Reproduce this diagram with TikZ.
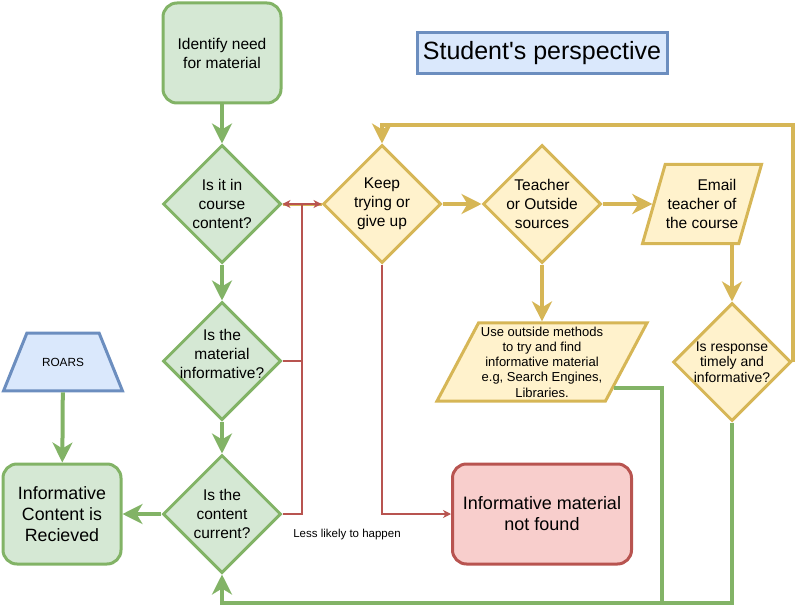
\documentclass[tikz,border=0pt]{standalone}
\usepackage{fontspec}
\setmainfont{Liberation Sans}
\usepackage{xcolor}
\usepackage{tikz}
\usetikzlibrary{shapes.geometric}
\usetikzlibrary{arrows.meta}

\definecolor{gFill}{HTML}{D5E8D4}
\definecolor{gStroke}{HTML}{82B366}
\definecolor{yFill}{HTML}{FFF2CC}
\definecolor{yStroke}{HTML}{D6B656}
\definecolor{rFill}{HTML}{F8CECC}
\definecolor{rStroke}{HTML}{B85450}
\definecolor{bFill}{HTML}{DAE8FC}
\definecolor{bStroke}{HTML}{6C8EBF}

\tikzset{
  termG/.style={draw=gStroke, fill=gFill, line width=3pt, rounded corners=14pt,
    minimum width=118pt, minimum height=100pt, align=center, inner sep=0pt},
  decG/.style={diamond, draw=gStroke, fill=gFill, line width=3pt,
    minimum width=118pt, minimum height=118pt, inner sep=-12pt, align=center},
  decY/.style={decG, draw=yStroke, fill=yFill},
  ioY/.style={trapezium, trapezium stretches body=true, draw=yStroke, fill=yFill,
    line width=3pt, align=center, inner xsep=0pt},
  gline/.style={draw=gStroke, line width=4pt},
  garrow/.style={gline, -{Stealth[length=20pt,width=20pt,inset=6pt]}},
  yline/.style={draw=yStroke, line width=4pt},
  yarrow/.style={yline, -{Stealth[length=20pt,width=20pt,inset=6pt]}},
  rline/.style={draw=rStroke, line width=1.3pt},
  rarrow/.style={rline, -{Stealth[length=8pt,width=8pt,inset=2.5pt]}},
}

\begin{document}
\begin{tikzpicture}[x=1pt,y=-1pt,font=\fontsize{15.5}{19}\selectfont]
      \useasboundingbox (0,0) rectangle (803,615);

      % left column
      \node[termG] (ident) at (222,53){Identify need\\for material};
      \node[decG] (d1) at (222,204){Is it in\\course\\content?};
      \node[decG, label={[align=center, yshift=7pt]center:Is the\\material\\informative?}] (d2) at (222,361){};
      \node[decG] (d3) at (222,514){Is the\\content\\current?};
      \node[termG, font=\fontsize{17.8}{21}\selectfont] (recv) at (62,514){Informative\\Content is\\Recieved};
      \node[trapezium, trapezium stretches body=true, trapezium left angle=68, trapezium right angle=68,
        draw=bStroke, fill=bFill, line width=3pt, minimum width=119pt, text height=8.5pt, text depth=0pt,
        inner xsep=0pt, inner ysep=24.7pt, font=\fontsize{11.8}{14}\selectfont] (roars) at (63,362){ROARS};

      % right part
      \node[draw=bStroke, fill=bFill, line width=3pt, minimum width=250pt, minimum height=41pt,
        inner sep=0pt, font=\fontsize{25}{30}\selectfont] (title) at (542,53){Student\textquotesingle s perspective};
      \node[decY] (keep) at (382,204){Keep\\trying or\\give up};
      \node[decY] (teacher) at (542,204){Teacher\\or Outside\\sources};
      \node[ioY, trapezium left angle=74, trapezium right angle=106, minimum width=119pt,
        inner ysep=14.9pt] (email) at (702,204)
        {\hspace*{30pt}Email\\teacher of\\the course};
      \node[ioY, trapezium left angle=62, trapezium right angle=118, minimum width=210pt,
        inner ysep=3.7pt, font=\fontsize{13}{15.3}\selectfont] (outside) at (542,362)
        {Use outside methods\\to try and find\\informative material\\e.g, Search Engines,\\Libraries.};
      \node[decY, font=\fontsize{14}{15.5}\selectfont] (resp) at (732,362){Is response\\timely and\\informative?};
      \node[draw=rStroke, fill=rFill, line width=3pt, rounded corners=14pt, minimum width=179pt,
        minimum height=100pt, align=center, inner sep=0pt, font=\fontsize{18}{21}\selectfont] (nf) at (542,514)
        {Informative material\\not found};
      \node[font=\fontsize{11.5}{13}\selectfont] (less) at (347,535){Less likely to happen};

      \coordinate (rJoin) at (302,204);
      \coordinate (loopTop) at (792,125);
      \coordinate (gR) at (662,603);

      % green flow
      \draw[garrow] (ident) -- (d1);
      \draw[garrow] (d1) -- (d2);
      \draw[garrow] (d2) -- (d3);
      \draw[garrow] (d3) -- (recv);
      \draw[garrow] (roars) -- (recv);
      \draw[gline] (resp.south) |- (gR);
      \draw[garrow] (outside.-20) -| (gR) -| (d3.south);

      % yellow flow
      \draw[draw=yStroke, line width=3pt] (d1.east) -- (keep.west);
      \draw[yarrow] (keep) -- (teacher);
      \draw[yarrow] (teacher) -- (email);
      \draw[yarrow] (teacher.south) -- (teacher.south |- outside.north);
      \draw[yarrow] (resp.north |- email.south) -- (resp.north);
      \draw[yarrow] (resp.east) -- (resp.east |- loopTop) -| (keep.north);

      % red
      \draw[rarrow] (rJoin) -- (keep.west);
      \draw[rarrow] (rJoin) -- (d1.east);
      \draw[rline] (d2.east) -| (rJoin);
      \draw[rline] (d3.east) -| (rJoin);
      \draw[rarrow] (keep.south) |- (nf.west);
    \end{tikzpicture}
\end{document}
